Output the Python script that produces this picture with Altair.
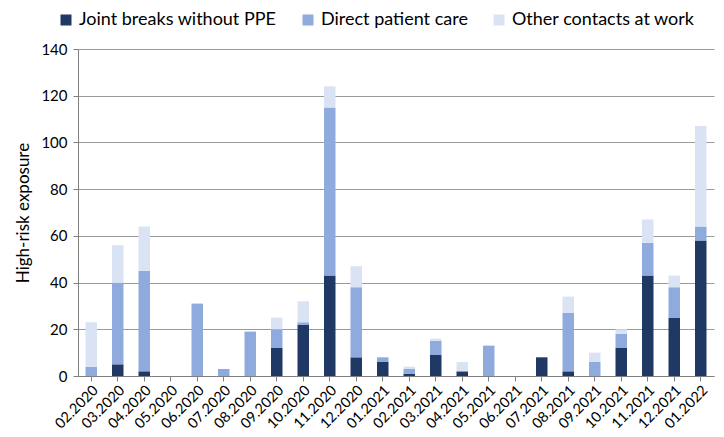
import altair as alt
import pandas as pd

months = ["02.2020", "03.2020", "04.2020", "05.2020", "06.2020", "07.2020", "08.2020",
          "09.2020", "10.2020", "11.2020", "12.2020", "01.2021", "02.2021", "03.2021",
          "04.2021", "05.2021", "06.2021", "07.2021", "08.2021", "09.2021", "10.2021",
          "11.2021", "12.2021", "01.2022"]
joint = [0, 5, 2, 0, 0, 0, 0, 12, 22, 43, 8, 6, 1, 9, 2, 0, 0, 8, 2, 0, 12, 43, 25, 58]
direct = [4, 35, 43, 0, 31, 3, 19, 8, 1, 72, 30, 2, 2, 6, 0, 13, 0, 0, 25, 6, 6, 14, 13, 6]
other = [19, 16, 19, 0, 0, 0, 0, 5, 9, 9, 9, 0, 1, 1, 4, 0, 0, 0, 7, 4, 2, 10, 5, 43]

series = ["Joint breaks without PPE", "Direct patient care", "Other contacts at work"]
colors = ["#203864", "#8FAADC", "#DAE3F3"]

rows = []
for i, m in enumerate(months):
    for k, (name, vals) in enumerate(zip(series, [joint, direct, other])):
        rows.append({"month": m, "series": name, "value": vals[i], "order": k})
df = pd.DataFrame(rows)

FONT = "Lato"

chart = alt.Chart(df).mark_bar(size=11.5).encode(
    x=alt.X("month:N", sort=months, title=None,
            axis=alt.Axis(labelAngle=-45, labelFontSize=14.5, labelColor="#000000",
                          domainColor="#808080", tickColor="#808080", tickSize=5,
                          labelPadding=2, grid=False)),
    y=alt.Y("value:Q", stack="zero", title="High-risk exposure",
            scale=alt.Scale(domain=[0, 140], nice=False),
            axis=alt.Axis(values=list(range(0, 141, 20)), labelFontSize=15,
                          labelColor="#000000", titleFontSize=17, titleFontWeight="normal",
                          titleColor="#000000", domainColor="#808080", tickColor="#808080",
                          tickSize=5, gridColor="#9A9A9A", titlePadding=8, labelPadding=6)),
    color=alt.Color("series:N", sort=series,
                    scale=alt.Scale(domain=series, range=colors),
                    legend=alt.Legend(title=None, orient="none", direction="horizontal",
                                      legendX=-21, legendY=-38, symbolType="square",
                                      symbolSize=121, symbolStrokeWidth=0, labelFontSize=18,
                                      labelLimit=0, labelColor="#000000", columnPadding=22,
                                      labelOffset=4)),
    order=alt.Order("order:Q", sort="ascending"),
).properties(
    width=636, height=327,
    autosize=alt.AutoSizeParams(type="none"),
    padding={"left": 78, "top": 49, "right": 10, "bottom": 61},
).configure(font=FONT).configure_view(stroke=None)

chart.save("out.html", embed_options={"renderer": "svg", "actions": False})
